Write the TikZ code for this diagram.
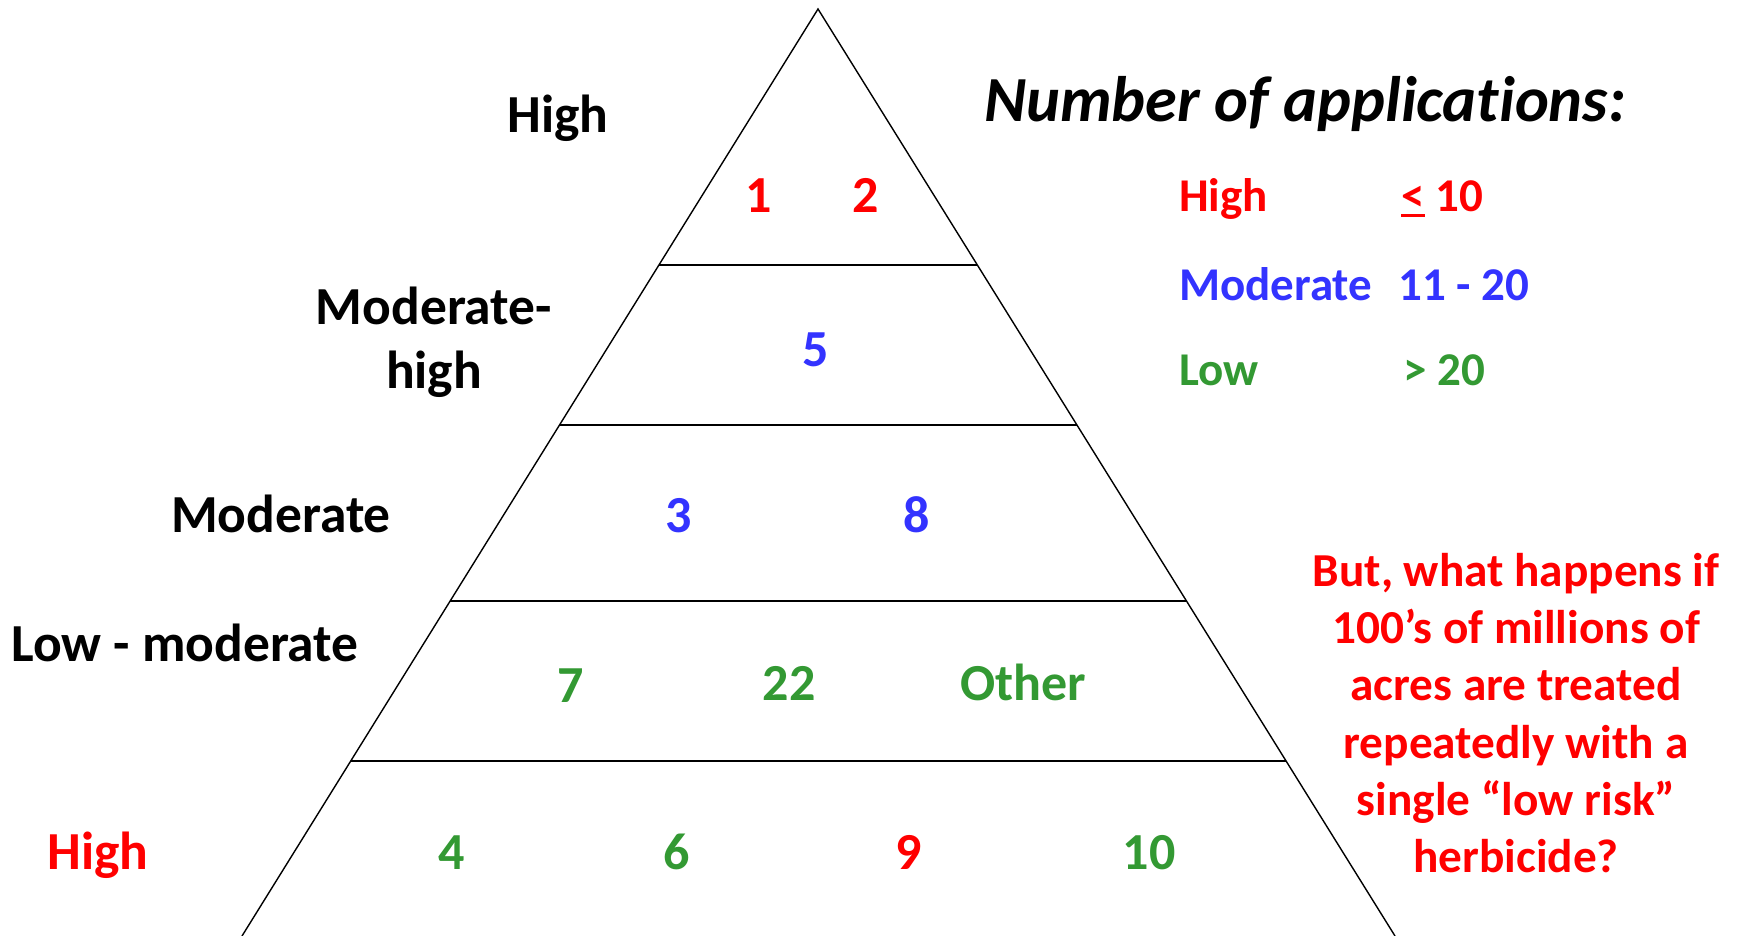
\documentclass[tikz,border=0pt]{standalone}
\usepackage{fontspec}
\usetikzlibrary{calc}
\setmainfont{Carlito}[Ligatures=NoCommon]
\definecolor{cred}{HTML}{FF0000}
\definecolor{cblue}{HTML}{3333FF}
\definecolor{cgreen}{HTML}{339933}
\newcommand\ulless{\leavevmode\vtop{\hbox{<}\kern2pt\hrule height 3pt}}
\begin{document}
\begin{tikzpicture}[x=1pt,y=-1pt,
  num/.style={anchor=base,inner sep=0pt,font=\fontsize{52}{62}\selectfont\bfseries},
  lbl/.style={anchor=base,inner sep=0pt,font=\fontsize{53.5}{64}\selectfont\bfseries},
  leg/.style={anchor=base west,inner sep=0pt,font=\fontsize{47}{57}\selectfont\bfseries},
  sideline/.style={line width=1.4pt,black},
  tier/.style={line width=1.4pt,black}]
\useasboundingbox (0,0) rectangle (1743,936);
\fill[white] (0,0) rectangle (1743,936);
% triangle
\coordinate (A) at (818,9);
\coordinate (BL) at (242,936);
\coordinate (BR) at (1395,936);
\draw[sideline] (BL) -- (A) -- (BR);
\foreach \t/\n in {0.2762/1,0.4488/2,0.6386/3,0.8112/4}{
  \coordinate (L\n) at ($(A)!\t!(BL)$);
  \coordinate (R\n) at ($(A)!\t!(BR)$);
  \draw[tier] (L\n) -- (R\n);
}
% numbers inside
\node[num,text=cred] (n1) at (759,213) {1};
\node[num,text=cred] (n2) at (866,213) {2};
\node[num,text=cblue] (n5) at (816,366) {5};
\node[num,text=cblue] (n3) at (679,532) {3};
\node[num,text=cblue] (n8) at (917,532) {8};
\node[num,text=cgreen] (n7) at (571,702) {7};
\node[num,text=cgreen] (n22) at (789,700) {22};
\node[num,text=cgreen] (nother) at (1023,700) {Other};
\node[num,text=cgreen] (n4) at (452,869) {4};
\node[num,text=cgreen] (n6) at (677,869) {6};
\node[num,text=cred] (n9) at (909,869) {9};
\node[num,text=cgreen] (n10) at (1149,869) {10};
% left labels
\node[lbl] (lh) at (558,133) {High};
\node[lbl] (lmh1) at (434,324) {Moderate-};
\node[lbl] (lmh2) at (434,388) {high};
\node[lbl] (lm) at (281,532) {Moderate};
\node[lbl] (llm) at (185,661) {Low - moderate};
\node[lbl,text=cred] (lhb) at (98,869) {High};
% title
\node[anchor=base,inner sep=0pt,font=\fontsize{64.3}{75}\selectfont\bfseries\itshape] (title) at (1305,122) {Number of applications:};
% legend
\node[leg,text=cred] (gh) at (1179,212) {High};
\node[leg,text=cred] (ghv) at (1401,212) {\ulless\ 10};
\node[leg,text=cblue] (gm) at (1179,300) {Moderate};
\node[leg,text=cblue] (gmv) at (1398,300) {11 - 20};
\node[leg,text=cgreen] (gl) at (1179,385) {Low};
\node[leg,text=cgreen] (glv) at (1403,385) {> 20};
% question
\node[inner sep=0pt,align=center,text=cred,font=\fontsize{47.3}{57.2}\selectfont\bfseries] (q) at (1516,713)
  {But, what happens if\\100’s of millions of\\acres are treated\\repeatedly with a\\single “low risk”\\herbicide?};
\end{tikzpicture}
\end{document}
